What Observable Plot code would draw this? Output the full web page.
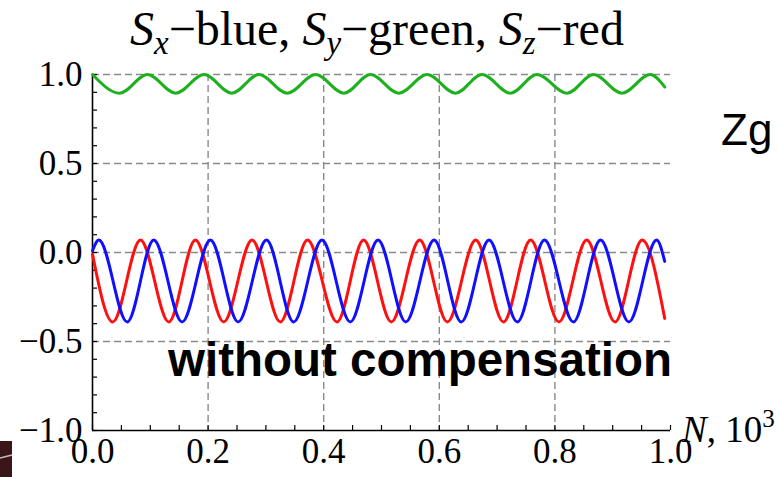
<!DOCTYPE html>
<html>
<head>
<meta charset="utf-8">
<script src="https://cdn.jsdelivr.net/npm/d3@7"></script>
<script src="https://cdn.jsdelivr.net/npm/@observablehq/plot@0.6"></script>
<style>
  html, body { margin: 0; padding: 0; background: #fff; }
  #chart { position: relative; width: 778px; height: 477px; overflow: hidden; }
</style>
</head>
<body>
<div id="chart"></div>
<script>
// ---- data (extrema + ends of each curve) ----
const blueX = [0, 0.011, 0.060, 0.106, 0.155, 0.204, 0.252, 0.301, 0.348, 0.397, 0.446, 0.494, 0.542, 0.591, 0.638, 0.686, 0.735, 0.782, 0.832, 0.879, 0.928, 0.976, 0.99];
const blueY = [0.01, 0.07, -0.39, 0.07, -0.39, 0.07, -0.39, 0.07, -0.39, 0.07, -0.39, 0.07, -0.39, 0.07, -0.39, 0.07, -0.39, 0.07, -0.39, 0.07, -0.39, 0.07, -0.05];

const greenX = [0, 0.047, 0.095, 0.144, 0.193, 0.241, 0.288, 0.337, 0.386, 0.435, 0.481, 0.530, 0.579, 0.628, 0.674, 0.723, 0.769, 0.821, 0.867, 0.916, 0.965, 0.99];
const greenY = [1.0, 0.895, 1.0, 0.895, 1.0, 0.895, 1.0, 0.895, 1.0, 0.895, 1.0, 0.895, 1.0, 0.895, 1.0, 0.895, 1.0, 0.895, 1.0, 0.895, 1.0, 0.93];

const redX = [0, 0.035, 0.083, 0.132, 0.178, 0.227, 0.276, 0.325, 0.372, 0.423, 0.469, 0.517, 0.566, 0.614, 0.663, 0.711, 0.758, 0.807, 0.855, 0.904, 0.951, 0.99];
const redY = [-0.01, -0.39, 0.07, -0.39, 0.07, -0.39, 0.07, -0.39, 0.07, -0.39, 0.07, -0.39, 0.07, -0.39, 0.07, -0.39, 0.07, -0.39, 0.07, -0.39, 0.07, -0.37];

const xTicks = [0, 0.2, 0.4, 0.6, 0.8, 1.0];
const yTicks = [-1.0, -0.5, 0.0, 0.5, 1.0];
const xMinor = d3.range(0, 21).map(i => i * 0.05);
const yMinor = d3.range(0, 21).map(i => -1 + i * 0.1);
const xGrid = [0.2, 0.4, 0.6, 0.8];
const yGrid = [-0.5, 0.0, 0.5, 1.0];

const toRows = (xs, ys) => xs.map((x, i) => ({x, y: ys[i]}));
const blue = toRows(blueX, blueY);
const green = toRows(greenX, greenY);
const red = toRows(redX, redY);

const fmt = d => d.toFixed(1).replace("-", "\u2212");

const W = 778, H = 477;
const mL = 92, mR = 108, mT = 74, mB = 47;
const innerW = W - mL - mR, innerH = H - mT - mB;

const gridStyle = {stroke: "#8a8a8a", strokeWidth: 1.4, strokeDasharray: "7,4"};

const svg = Plot.plot({
  width: W, height: H,
  marginLeft: mL, marginRight: mR, marginTop: mT, marginBottom: mB,
  x: {domain: [0, 1]},
  y: {domain: [-1, 1]},
  style: {fontFamily: "'Liberation Serif', 'Times New Roman', serif", fontSize: "35px", background: "white", overflow: "visible", color: "#000"},
  marks: [
    Plot.ruleX(xGrid, {x: d => d, ...gridStyle}),
    Plot.ruleY(yGrid, {y: d => d, ...gridStyle}),
    Plot.tickX(xMinor, {x: d => d, insetTop: innerH - 5, stroke: "#000", strokeWidth: 1.2}),
    Plot.tickY(yMinor, {y: d => d, insetRight: innerW - 5, stroke: "#000", strokeWidth: 1.2}),
    Plot.ruleX([0], {stroke: "#000", strokeWidth: 1.6}),
    Plot.ruleY([-1], {stroke: "#000", strokeWidth: 1.6}),
    Plot.line(green, {x: "x", y: "y", stroke: "#1fb01f", strokeWidth: 3, curve: "monotone-x"}),
    Plot.line(red, {x: "x", y: "y", stroke: "#ff1010", strokeWidth: 3, curve: "monotone-x"}),
    Plot.line(blue, {x: "x", y: "y", stroke: "#1010ff", strokeWidth: 3, curve: "monotone-x"}),
    Plot.axisX({ticks: xTicks, tickSize: 0, tickPadding: 8, tickFormat: fmt, label: null, fill: "#000"}),
    Plot.axisY({ticks: yTicks, tickSize: 0, tickPadding: 10, tickFormat: fmt, label: null, fill: "#000"})
  ]
});

document.getElementById("chart").appendChild(svg);

const s = d3.select(svg);
const serif = "'Liberation Serif', 'Times New Roman', serif";
const sans = "'Liberation Sans', Arial, sans-serif";

// Title with subscripts
const t = s.append("text").attr("x", 130).attr("y", 45).attr("text-anchor", "start")
  .attr("font-family", serif).attr("font-size", 48).attr("fill", "#000");
const parts = [["S", "x", "\u2212blue, "], ["S", "y", "\u2212green, "], ["S", "z", "\u2212red"]];
parts.forEach(([a, sub, rest]) => {
  t.append("tspan").attr("font-style", "italic").text(a);
  t.append("tspan").attr("font-style", "italic").attr("font-size", 33).attr("dy", 9).text(sub);
  t.append("tspan").attr("dy", -9).text(rest);
});

// Axis label N, 10^3
const n = s.append("text").attr("x", 682).attr("y", 442).attr("text-anchor", "start")
  .attr("font-family", serif).attr("font-size", 37).attr("fill", "#000");
n.append("tspan").attr("font-style", "italic").text("N");
n.append("tspan").text(", 10");
n.append("tspan").attr("font-size", 25).attr("dy", -15).text("3");

// Annotation
s.append("text").attr("x", 168).attr("y", 376).attr("text-anchor", "start")
  .attr("font-family", sans).attr("font-weight", "bold").attr("font-size", 47.5).attr("fill", "#000")
  .text("without compensation");

// Clipped slide text at right
s.append("text").attr("x", 721).attr("y", 145).attr("text-anchor", "start")
  .attr("font-family", sans).attr("font-size", 44).attr("fill", "#000")
  .text("Zg");

// Dark image fragment at bottom-left corner
s.append("rect").attr("x", 0).attr("y", 441).attr("width", 12).attr("height", 36).attr("fill", "#3a1619");
s.append("line").attr("x1", 0).attr("y1", 458).attr("x2", 12).attr("y2", 455).attr("stroke", "#c9b8b8").attr("stroke-width", 1.5);
</script>
</body>
</html>
